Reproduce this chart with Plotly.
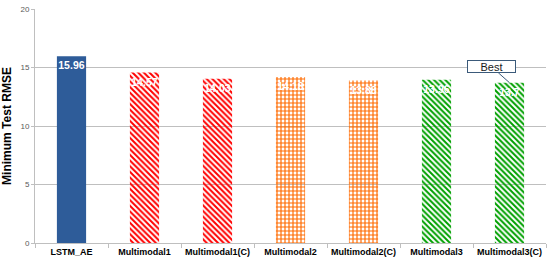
import plotly.graph_objects as go

categories = ["LSTM_AE", "Multimodal1", "Multimodal1(C)", "Multimodal2",
              "Multimodal2(C)", "Multimodal3", "Multimodal3(C)"]
rmse = [15.96, 14.57, 14.03, 14.18, 13.88, 13.96, 13.7]
labels = ["15.96", "14.57", "14.03", "14.18", "13.88", "13.96", "13.7"]
y_ticks = [0, 5, 10, 15, 20]

bar_colors = ["#2E5C99", "#FF0000", "#FF0000", "#FF6A00", "#FF6A00", "#00A000", "#00A000"]
hatch_bg = ["#2E5C99", "#000000", "#000000", "#000000", "#000000", "#000000", "#000000"]
shapes = ["", "\\", "\\", "+", "+", "\\", "\\"]

fig = go.Figure()
fig.add_trace(go.Bar(
    x=categories, y=rmse, text=labels,
    textposition="inside", insidetextanchor="end", constraintext="none",
    textfont=dict(family="Liberation Sans, Arial", size=10.5, color="white", weight="bold"),
    textangle=0,
    marker=dict(
        color=bar_colors,
        line=dict(width=0),
        pattern=dict(shape=shapes, bgcolor=hatch_bg,
                     size=4, solidity=0.5, fillmode="replace"),
    ),
    cliponaxis=False,
))

fig.add_annotation(
    x="Multimodal3(C)", y=13.7, text="Best",
    showarrow=True, arrowhead=0, arrowwidth=1, arrowcolor="#3B5A7A",
    ax=-18, ay=-16, standoff=0,
    bgcolor="white", bordercolor="#3B5A7A", borderwidth=1, borderpad=0,
    width=47, height=11,
    font=dict(family="Liberation Sans, Arial", size=11, color="#1a1a1a"),
)

fig.update_layout(
    width=550, height=262,
    margin=dict(l=35, r=4, t=9, b=19, autoexpand=False),
    paper_bgcolor="white", plot_bgcolor="white",
    bargap=0.6, showlegend=False,
    font=dict(family="Liberation Sans, Arial"),
)
fig.update_yaxes(
    range=[0, 20], tickvals=y_ticks, ticktext=[str(v) for v in y_ticks],
    showgrid=True, gridcolor="#BFBFBF", gridwidth=1,
    showline=True, linecolor="#BFBFBF", linewidth=1,
    ticks="outside", ticklen=3, tickcolor="#BFBFBF",
    tickfont=dict(size=8, color="#595959"),
    zeroline=False, automargin=False,
    title=dict(text="Minimum Test RMSE", standoff=8,
               font=dict(size=12, color="black", weight="bold")),
)
fig.update_xaxes(
    showline=True, linecolor="#BFBFBF", linewidth=1,
    ticks="outside", ticklen=4, tickcolor="#BFBFBF", tickson="boundaries",
    tickangle=0, automargin=False,
    tickfont=dict(size=9, color="black", weight="bold"),
)

fig.write_html("out.html", config={"displayModeBar": False},
               post_script="document.body.style.margin='0';")
